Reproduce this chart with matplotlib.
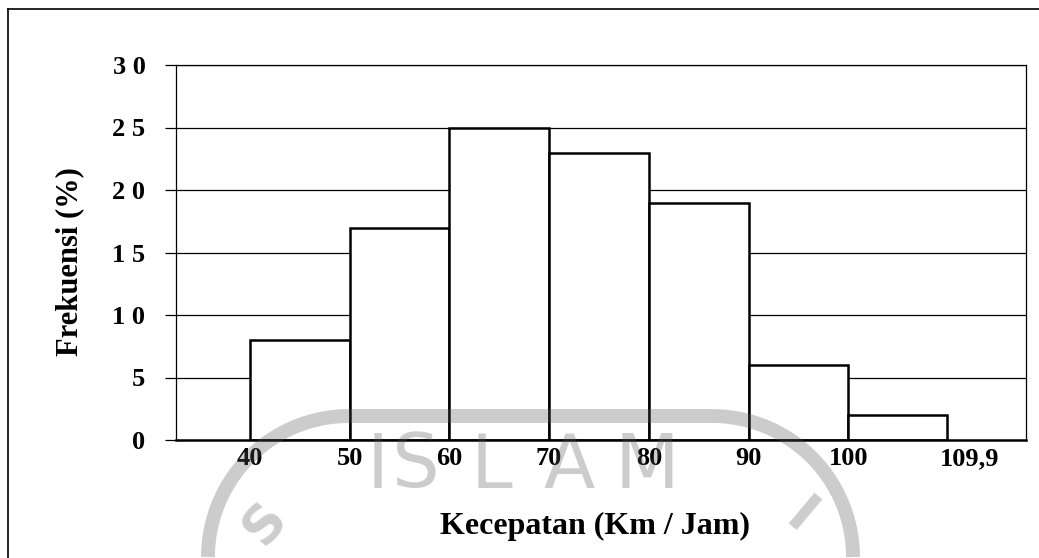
import numpy as np
import matplotlib
matplotlib.use('Agg')
import matplotlib.pyplot as plt
from matplotlib.lines import Line2D
from matplotlib.transforms import ScaledTranslation

# --- podaci (histogram kecepatan) ---
bin_edges = [40, 50, 60, 70, 80, 90, 100, 109.9]
frekuensi = [8, 17, 25, 23, 19, 6, 2]
x_ticks = [40, 50, 60, 70, 80, 90, 100, 109.9]
x_tick_labels = ['40', '50', '60', '70', '80', '90', '100', '109,9']
y_ticks = [0, 5, 10, 15, 20, 25, 30]
y_tick_labels = ['0', '5', '1 0', '1 5', '2 0', '2 5', '3 0']

plt.rcParams['font.family'] = ['Liberation Serif', 'DejaVu Serif']
plt.rcParams['font.weight'] = 'bold'

fig = plt.figure(figsize=(10.39, 5.58), dpi=100)
ax = fig.add_axes([176 / 1039, 1 - 440 / 558, 850 / 1039, 375 / 558])

# grid iza stupaca
for y in y_ticks[1:]:
    ax.axhline(y, color='black', lw=0.9, zorder=1)

widths = np.diff(bin_edges)
ax.bar(bin_edges[:-1], frekuensi, width=widths, align='edge',
       facecolor='white', edgecolor='black', linewidth=1.8, zorder=2)

ax.set_xlim(32.6, 117.8)
ax.set_ylim(0, 30)

ax.set_yticks(y_ticks)
ax.set_yticklabels(y_tick_labels, fontsize=19, fontweight='bold')
ax.tick_params(axis='y', length=8, width=0.9, pad=14, direction='out')
ax.set_xticks(x_ticks)
ax.set_xticklabels(x_tick_labels, fontsize=19, fontweight='bold')
ax.tick_params(axis='x', length=0, pad=5)
last = ax.get_xticklabels()[-1]
last.set_transform(last.get_transform() + ScaledTranslation(0.22, 0, fig.dpi_scale_trans))

for s in ['left', 'top', 'right']:
    ax.spines[s].set_linewidth(0.9)
ax.spines['bottom'].set_linewidth(1.8)

ax.set_ylabel('Frekuensi (%)', fontsize=22, fontweight='bold')
ax.yaxis.set_label_coords(-0.108, 0.475)
ax.set_xlabel('Kecepatan (Km / Jam)', fontsize=23, fontweight='bold')
ax.xaxis.set_label_coords(0.493, -0.192)

# okvir oko slike
fig.add_artist(Line2D([8 / 1039, 1.0], [1 - 9 / 558] * 2, color='black', lw=1.2,
                      transform=fig.transFigure))
fig.add_artist(Line2D([8 / 1039] * 2, [0, 1 - 9 / 558], color='black', lw=1.2,
                      transform=fig.transFigure))

# vodeni žig iz skena (svijetlo sivi), koordinate u inčima od donjeg lijevog kuta
wm = (0.35, 0.35, 0.35)
wa = 0.3
tr = fig.dpi_scale_trans
r = 1.41
t_left = np.linspace(np.pi, np.pi / 2, 40)
t_right = np.linspace(np.pi / 2, 0, 40)
ring_x = np.concatenate([3.49 + r * np.cos(t_left), 7.12 + r * np.cos(t_right)])
ring_y = np.concatenate([0.01 + r * np.sin(t_left), 0.01 + r * np.sin(t_right)])
fig.add_artist(Line2D(ring_x, ring_y, color=wm, alpha=wa, lw=10,
                      solid_capstyle='butt', transform=tr))
for ch, xc in zip('ISLAM', [378, 416, 491, 569, 647]):
    fig.text(xc / 1039, 1 - 467 / 558, ch, color=wm, alpha=wa, fontsize=54,
             family='DejaVu Sans', fontweight='normal', ha='center', va='center')
fig.text(265 / 1039, 1 - 524 / 558, 'S', color=wm, alpha=wa, fontsize=38,
         family='DejaVu Sans', rotation=50, ha='center', va='center')
fig.text(800 / 1039, 1 - 518 / 558, 'I', color=wm, alpha=wa, fontsize=40,
         family='DejaVu Sans', rotation=-40, ha='center', va='center')

fig.savefig('out.png', dpi=100)
